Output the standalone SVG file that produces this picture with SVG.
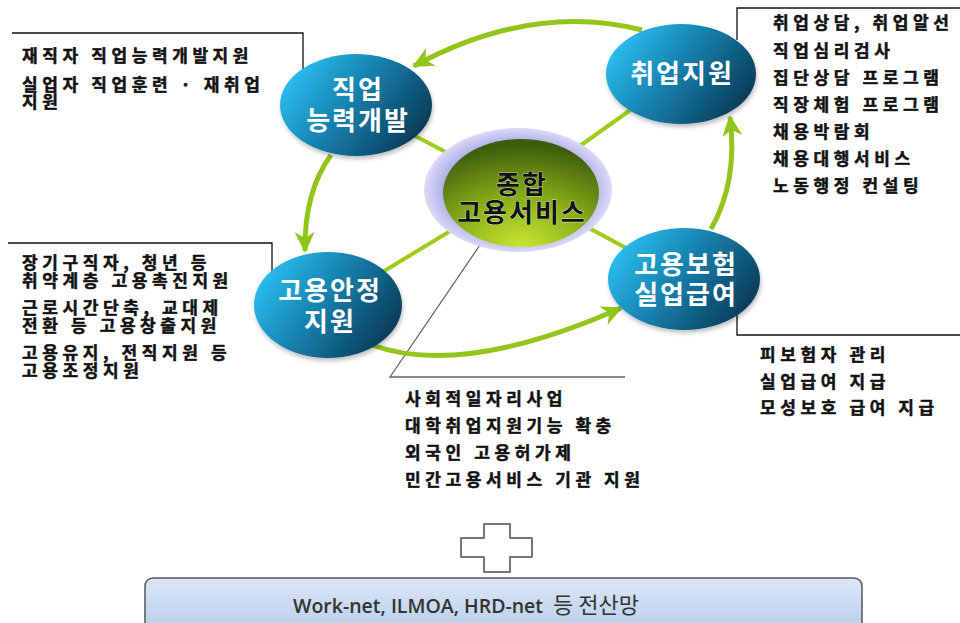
<svg xmlns="http://www.w3.org/2000/svg" width="960" height="623" viewBox="0 0 960 623">
<style>
.ko{font-family:"Noto Sans CJK KR","Noto Sans",sans-serif;font-weight:bold;font-size:17px;letter-spacing:4.6px;fill:#111;stroke:#111;stroke-width:0.5px}
.nt{font-family:"Noto Sans CJK KR","Noto Sans",sans-serif;font-weight:bold;font-size:26px;letter-spacing:2px;fill:#fff;text-anchor:middle}
.ct{font-family:"Noto Sans CJK KR","Noto Sans",sans-serif;font-weight:bold;font-size:26px;letter-spacing:2px;fill:#111;text-anchor:middle;stroke:#fff;stroke-width:0.6px;paint-order:stroke}
.call{fill:none;stroke:#111;stroke-width:1.3}
.spoke{stroke:#9fcc1c;stroke-width:4;fill:none}
.arc{stroke:#92c51a;stroke-width:5;fill:none;marker-end:url(#ah)}
.node{fill:url(#ng);filter:url(#sh)}
</style>
<defs>
<linearGradient id="ng" x1="0" y1="0.25" x2="1" y2="0.75">
<stop offset="0" stop-color="#2cc2f4"/>
<stop offset="0.45" stop-color="#1681ae"/>
<stop offset="1" stop-color="#0a3550"/>
</linearGradient>
<radialGradient id="lav" cx="0.5" cy="0.5" r="0.5">
<stop offset="0.75" stop-color="#a9a9e6"/>
<stop offset="1" stop-color="#dadaf8"/>
</radialGradient>
<radialGradient id="grn" cx="0.5" cy="0.95" r="0.9" fx="0.5" fy="1">
<stop offset="0" stop-color="#c9e631"/>
<stop offset="0.5" stop-color="#86ad17"/>
<stop offset="1" stop-color="#3d5c0c"/>
</radialGradient>
<linearGradient id="bx" x1="0" y1="0" x2="0" y2="1">
<stop offset="0" stop-color="#dbe7f6"/>
<stop offset="1" stop-color="#b7cdea"/>
</linearGradient>
<filter id="sh" x="-20%" y="-20%" width="140%" height="150%">
<feDropShadow dx="1" dy="3" stdDeviation="2" flood-color="#000" flood-opacity="0.25"/>
</filter>
<marker id="ah" markerUnits="userSpaceOnUse" markerWidth="22" markerHeight="22" viewBox="0 0 22 22" refX="19" refY="11" orient="auto">
<path d="M0,1 L21,11 L0,21 L6,11 z" fill="#92c51a"/>
</marker>
</defs>

<g id="callout-lines">
<polyline class="call" points="12,33 303,33 303,70"/>
<polyline class="call" points="737,40 737,8 960,8"/>
<polyline class="call" points="737,300 737,335 960,335"/>
<polyline class="call" points="8,243 272,243 272,275"/>
<polyline class="call" points="480,245 390,377 625,377" style="stroke:#666"/>
</g>

<g id="connectors">
<line class="spoke" x1="518" y1="190" x2="356" y2="105"/>
<line class="spoke" x1="518" y1="190" x2="681" y2="74"/>
<line class="spoke" x1="518" y1="190" x2="328" y2="305"/>
<line class="spoke" x1="518" y1="190" x2="684" y2="279"/>
<path class="arc" d="M642,30 Q532,2 414,66"/>
<path class="arc" d="M331,155 Q304,192 305,251"/>
<path class="arc" d="M372,345 Q462,378 621,308"/>
<path class="arc" d="M711,229 Q738,182 730,117"/>
</g>

<g id="node-center">
<ellipse cx="518" cy="190" rx="94" ry="62" fill="url(#lav)"/>
<ellipse cx="521" cy="193" rx="78" ry="54" fill="url(#grn)"/>
<text class="ct" x="522" y="194">종합</text>
<text class="ct" x="522" y="222">고용서비스</text>
</g>

<g id="node-skill">
<ellipse class="node" cx="356" cy="105" rx="76" ry="51"/>
<text class="nt" x="358" y="99">직업</text>
<text class="nt" x="358" y="130">능력개발</text>
</g>

<g id="node-job">
<ellipse class="node" cx="681" cy="74" rx="75" ry="50"/>
<text class="nt" x="682" y="83">취업지원</text>
</g>

<g id="node-stable">
<ellipse class="node" cx="328" cy="305" rx="74" ry="53"/>
<text class="nt" x="330" y="300">고용안정</text>
<text class="nt" x="330" y="331">지원</text>
</g>

<g id="node-insurance">
<ellipse class="node" cx="684" cy="279" rx="76" ry="51"/>
<text class="nt" x="686" y="274">고용보험</text>
<text class="nt" x="686" y="304">실업급여</text>
</g>

<g id="text-skill">
<text class="ko" x="22" y="62">재직자 직업능력개발지원</text>
<text class="ko" x="22" y="91">실업자 직업훈련 · 재취업</text>
<text class="ko" x="22" y="108">지원</text>
</g>

<g id="text-job">
<text class="ko" x="773" y="29">취업상담, 취업알선</text>
<text class="ko" x="773" y="57">직업심리검사</text>
<text class="ko" x="773" y="84">집단상담 프로그램</text>
<text class="ko" x="773" y="111">직장체험 프로그램</text>
<text class="ko" x="773" y="138">채용박람회</text>
<text class="ko" x="773" y="165">채용대행서비스</text>
<text class="ko" x="773" y="192">노동행정 컨설팅</text>
</g>

<g id="text-stable">
<text class="ko" x="22" y="269">장기구직자, 청년 등</text>
<text class="ko" x="22" y="287">취약계층 고용촉진지원</text>
<text class="ko" x="22" y="314">근로시간단축, 교대제</text>
<text class="ko" x="22" y="332">전환 등 고용창출지원</text>
<text class="ko" x="22" y="359">고용유지, 전직지원 등</text>
<text class="ko" x="22" y="377">고용조정지원</text>
</g>

<g id="text-center">
<text class="ko" x="405" y="405">사회적일자리사업</text>
<text class="ko" x="405" y="432">대학취업지원기능 확충</text>
<text class="ko" x="405" y="459">외국인 고용허가제</text>
<text class="ko" x="405" y="486">민간고용서비스 기관 지원</text>
</g>

<g id="text-insurance">
<text class="ko" x="760" y="361">피보험자 관리</text>
<text class="ko" x="760" y="388">실업급여 지급</text>
<text class="ko" x="760" y="414">모성보호 급여 지급</text>
</g>

<g id="plus">
<path d="M484,524 H510 V538 H532 V557 H510 V572 H484 V557 H461 V538 H484 Z" fill="#fff" stroke="#777" stroke-width="2" stroke-linejoin="round"/>
</g>

<g id="network-box">
<rect x="145" y="578" width="717" height="56" rx="8" fill="url(#bx)" stroke="#555" stroke-width="1.5"/>
<text x="293" y="613" style="font-family:'Open Sans','Noto Sans CJK KR',sans-serif;font-size:19.5px;font-weight:600;fill:#333">Work-net, ILMOA, HRD-net<tspan dx="10" style="font-family:'Noto Sans CJK KR',sans-serif;font-weight:normal;font-size:22px">등 전산망</tspan></text>
</g>
</svg>
